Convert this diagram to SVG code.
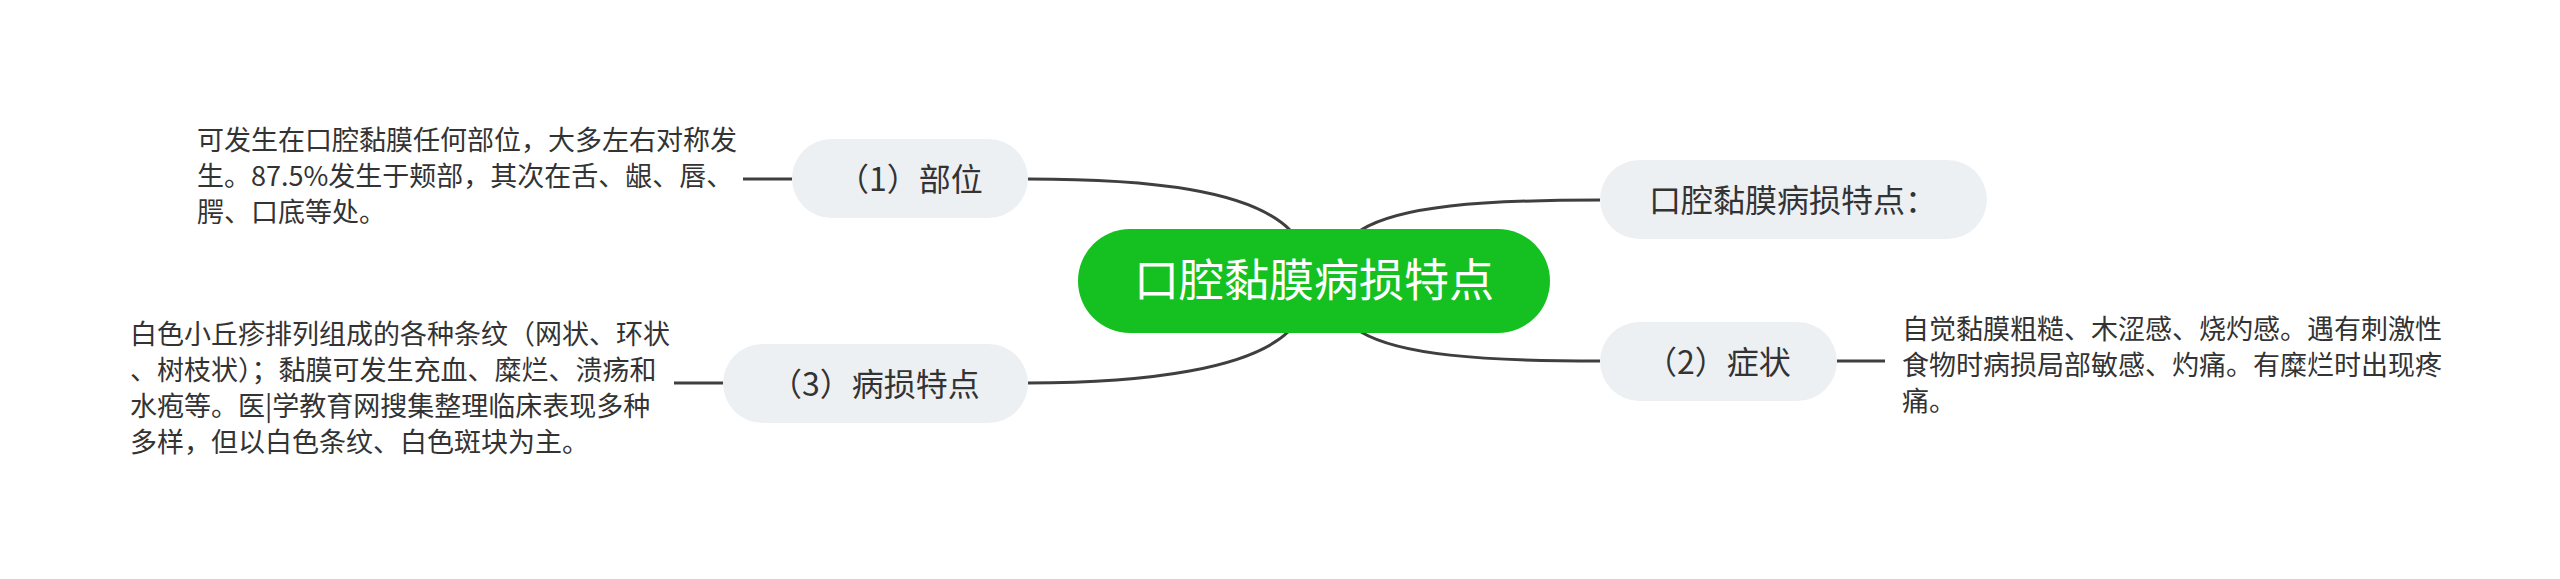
<svg xmlns="http://www.w3.org/2000/svg" width="2560" height="579" viewBox="0 0 2560 579">
<style>
.conn{fill:none;stroke:#3f3f3f;stroke-width:3;stroke-linecap:butt}
.pill{fill:#edf0f3}
.root{fill:#15c120}
.rt{font-family:"Noto Sans CJK SC","Noto Sans",sans-serif;font-size:45px;fill:#ffffff;text-anchor:middle}
.bt{font-family:"Noto Sans CJK SC","Noto Sans",sans-serif;font-size:32px;fill:#333333;text-anchor:middle}
.lt{font-family:"Noto Sans CJK SC","Noto Sans",sans-serif;font-size:27px;fill:#333333}
</style>
<rect width="2560" height="579" fill="#ffffff"/>
<g id="connectors">
<path class="conn" d="M1028 179 C1150 179 1250 190 1290 230"/>
<path class="conn" d="M1361 230 C1400 206 1480 200 1600 200"/>
<path class="conn" d="M1361 332 C1400 355 1480 361 1600 361"/>
<path class="conn" d="M1288 332 C1250 368 1150 383 1028 383"/>
<path class="conn" d="M743 179 H792"/>
<path class="conn" d="M674 383 H723"/>
<path class="conn" d="M1837 361 H1885"/>
</g>
<g id="root">
<rect class="root" x="1078" y="229" width="472" height="104" rx="52"/>
<text class="rt" x="1314" y="297">口腔黏膜病损特点</text>
</g>
<g id="n1">
<rect class="pill" x="792" y="139" width="236" height="79" rx="39.5"/>
<text class="bt" x="910" y="191">（1）部位</text>
</g>
<g id="n0">
<rect class="pill" x="1600" y="160" width="387" height="79" rx="39.5"/>
<text class="bt" x="1793" y="212">口腔黏膜病损特点：</text>
</g>
<g id="n2">
<rect class="pill" x="1600" y="322" width="237" height="79" rx="39.5"/>
<text class="bt" x="1718" y="374">（2）症状</text>
</g>
<g id="n3">
<rect class="pill" x="723" y="344" width="305" height="79" rx="39.5"/>
<text class="bt" x="875" y="396">（3）病损特点</text>
</g>
<g id="l1">
<text class="lt" x="197" y="150">可发生在口腔黏膜任何部位，大多左右对称发</text>
<text class="lt" x="197" y="186">生。87.5%发生于颊部，其次在舌、龈、唇、</text>
<text class="lt" x="197" y="222">腭、口底等处。</text>
</g>
<g id="l2">
<text class="lt" x="1902" y="339">自觉黏膜粗糙、木涩感、烧灼感。遇有刺激性</text>
<text class="lt" x="1902" y="375">食物时病损局部敏感、灼痛。有糜烂时出现疼</text>
<text class="lt" x="1902" y="411">痛。</text>
</g>
<g id="l3">
<text class="lt" x="130" y="344">白色小丘疹排列组成的各种条纹（网状、环状</text>
<text class="lt" x="130" y="380">、树枝状）；黏膜可发生充血、糜烂、溃疡和</text>
<text class="lt" x="130" y="416">水疱等。医|学教育网搜集整理临床表现多种</text>
<text class="lt" x="130" y="452">多样，但以白色条纹、白色斑块为主。</text>
</g>
</svg>
